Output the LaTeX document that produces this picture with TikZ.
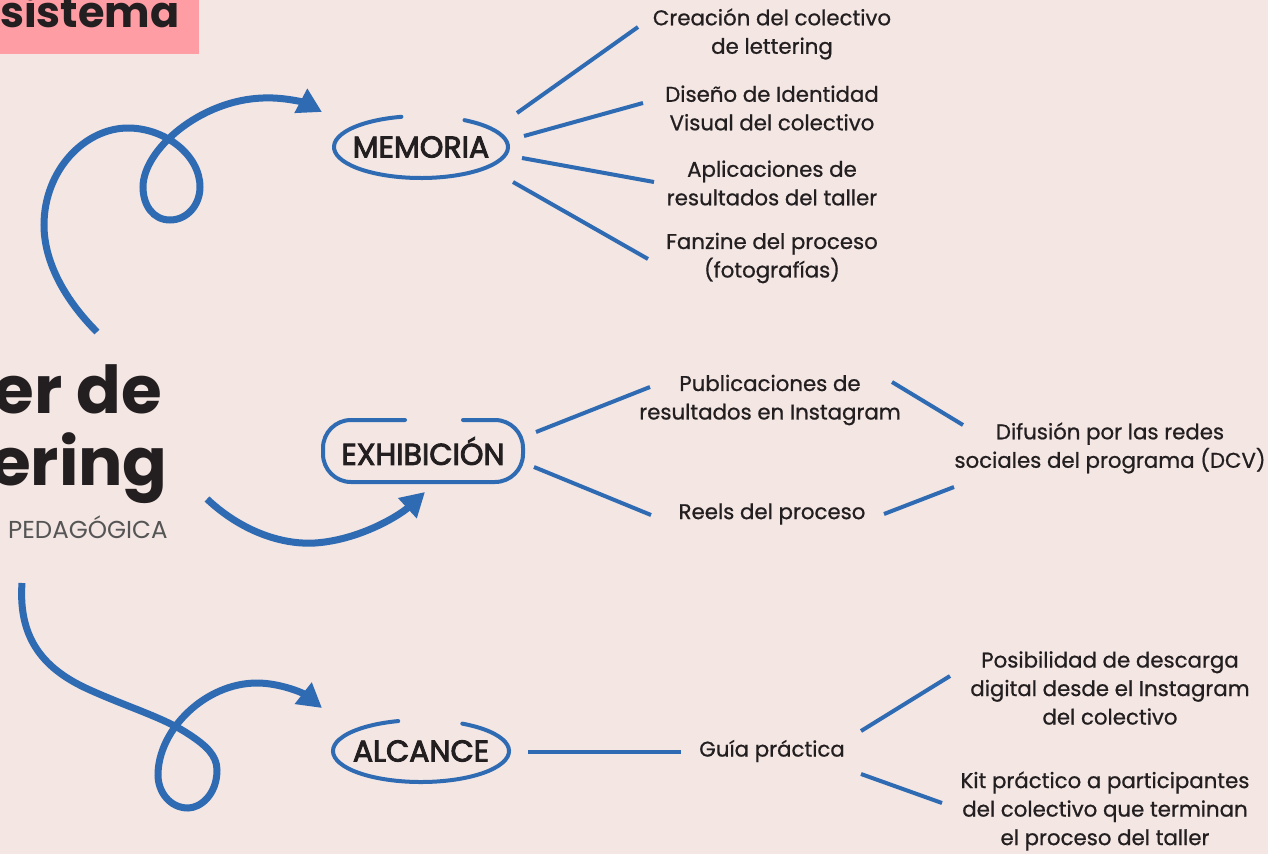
\documentclass[tikz,border=0pt]{standalone}
\usepackage{fontspec}
\setmainfont{Poppins}[FakeBold=0.8]
\newfontfamily\labfont{Poppins}[FakeBold=3]
\newfontfamily\thinfont{Poppins}
\usetikzlibrary{arrows.meta}
\definecolor{bgc}{HTML}{F3E6E3}
\definecolor{blu}{HTML}{2F6BB3}
\definecolor{pnk}{HTML}{FF9DA5}
\definecolor{ink}{HTML}{231F20}
\definecolor{gry}{HTML}{555555}
\tikzset{
  txt/.style={align=center,text=ink,font=\fontsize{21.3}{28.5}\selectfont,inner sep=0pt},
  lab/.style={text=ink,font=\labfont\fontsize{30}{32}\selectfont,inner sep=0pt},
  br/.style={draw=blu,line width=4pt},
  ell/.style={draw=blu,line width=4pt,line cap=round},
  swirl/.style={draw=blu,line width=7pt,-{Triangle[length=24pt,width=26pt]}},
  ttl/.style={text=ink,font=\thinfont\bfseries\fontsize{66}{70}\selectfont,inner sep=0pt},
}
\begin{document}
\begin{tikzpicture}[x=1pt,y=-1pt]
\useasboundingbox (0,0) rectangle (1268,854);
\clip (0,0) rectangle (1268,854);
\fill[bgc] (0,0) rectangle (1268,854);
\fill[pnk] (0,0) rectangle (199,54);
% title fragments
\node[ttl,font=\thinfont\bfseries\fontsize{43}{46}\selectfont,anchor=base west] (sis) at (0,27) {sistema};
\node[ttl,anchor=base east] (erde) at (162,413) {er de};
\node[ttl,anchor=base east] (ering) at (168,485) {ering};
\node[text=gry,font=\thinfont\fontsize{24.5}{26}\selectfont,inner sep=0pt,anchor=base west] (ped) at (8,538) {PEDAGÓGICA};
% main labels
\node[lab] (mem) at (421,147) {MEMORIA};
\node[lab] (exh) at (423,451) {EXHIBICIÓN};
\node[lab] (alc) at (421,751) {ALCANCE};
% hand drawn outlines
\draw[ell] ([shift={(-60:87 and 31)}]mem.center) arc[start angle=-60,end angle=257,x radius=87,y radius=31];
\draw[ell,rounded corners=28pt] ([shift={(-18,-31)}]exh.center) -- ([shift={(-100,-31)}]exh.center) -- ([shift={(-100,31)}]exh.center) -- ([shift={(100,31)}]exh.center) -- ([shift={(100,-31)}]exh.center) -- ([shift={(40,-31)}]exh.center);
\draw[ell] ([shift={(-62:88 and 31)}]alc.center) arc[start angle=-62,end angle=255,x radius=88,y radius=31];
% texts
\node[txt] (t1) at (772,34) {Creación del colectivo\\de lettering};
\node[txt] (t2) at (772,108) {Diseño de Identidad\\Visual del colectivo};
\node[txt] (t3) at (772,183) {Aplicaciones de\\resultados del taller};
\node[txt] (t4) at (772,258) {Fanzine del proceso\\(fotografías)};
\node[txt] (p1) at (770,400) {Publicaciones de\\resultados en Instagram};
\node[txt] (r1) at (772,514) {Reels del proceso};
\node[txt] (dif) at (1110,448) {Difusión por las redes\\sociales del programa (DCV)};
\node[txt] (g) at (772,751) {Guía práctica};
\node[txt] (pos) at (1110,688) {Posibilidad de descarga\\digital desde el Instagram\\del colectivo};
\node[txt] (kit) at (1105,811) {Kit práctico a participantes\\del colectivo que terminan\\el proceso del taller};
% branches
\draw[br] ([shift={(96,-34)}]mem.center) -- ([shift={(-134,-7)}]t1.center);
\draw[br] ([shift={(103,-11)}]mem.center) -- ([shift={(-129,-5)}]t2.center);
\draw[br] ([shift={(101,11)}]mem.center) -- ([shift={(-118,-1)}]t3.center);
\draw[br] ([shift={(92,35)}]mem.center) -- ([shift={(-124,1)}]t4.center);
\draw[br] ([shift={(113,-19)}]exh.center) -- ([shift={(-120,-13)}]p1.center);
\draw[br] ([shift={(111,16)}]exh.center) -- ([shift={(-121,1)}]r1.center);
\draw[br] ([shift={(122,-18)}]p1.center) -- ([shift={(-147,-23)}]dif.center);
\draw[br] ([shift={(112,0)}]r1.center) -- ([shift={(-156,39)}]dif.center);
\draw[br] ([shift={(107,1)}]alc.center) -- ([shift={(-91,1)}]g.center);
\draw[br] ([shift={(89,-20)}]g.center) -- ([shift={(-160,-12)}]pos.center);
\draw[br] ([shift={(89,23)}]g.center) -- ([shift={(-163,-8)}]kit.center);
% swirl arrows
\coordinate (s1) at (97,332);
\coordinate (s2) at (207,499);
\coordinate (s3) at (22,583);
\draw[swirl] (s1) .. controls (65,300) and (44,262) .. (44,225)
  .. controls (44,170) and (85,128) .. (128,128)
  .. controls (165,128) and (200,155) .. (200,187)
  .. controls (200,205) and (187,220) .. (170,220)
  .. controls (153,220) and (143,205) .. (143,187)
  .. controls (143,150) and (200,100) .. (263,98)
  .. controls (285,97) and (305,103) .. ([shift={(-99,-35)}]mem.center);
\draw[swirl] (s2) .. controls (240,530) and (280,545) .. (315,543)
  .. controls (360,540) and (400,515) .. ([shift={(2,41)}]exh.center);
\draw[swirl] (s3) .. controls (18,640) and (45,670) .. (90,690)
  .. controls (130,708) and (165,718) .. (190,735)
  .. controls (205,745) and (217,755) .. (217,770)
  .. controls (217,795) and (200,808) .. (188,808)
  .. controls (170,808) and (158,792) .. (158,775)
  .. controls (158,730) and (205,683) .. (257,683)
  .. controls (280,683) and (303,693) .. ([shift={(-99,-43)}]alc.center);
\end{tikzpicture}
\end{document}
